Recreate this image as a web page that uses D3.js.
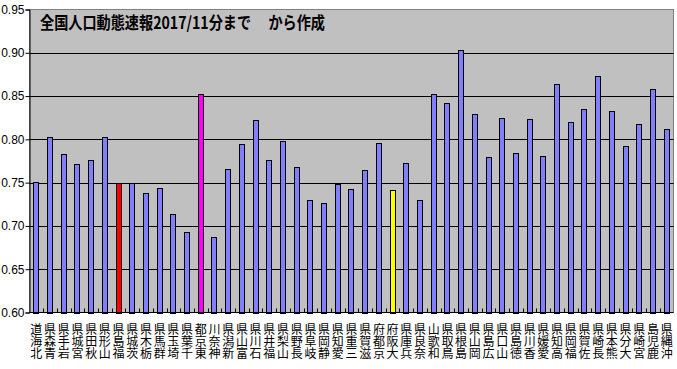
<!DOCTYPE html>
<html><head><meta charset="utf-8">
<script src="https://cdn.jsdelivr.net/npm/d3@7"></script>
<style>html,body{margin:0;padding:0;background:#fff;}svg{display:block;}</style>
</head><body>
<script>
const prefectures = ["北海道","青森県","岩手県","宮城県","秋田県","山形県","福島県","茨城県","栃木県","群馬県","埼玉県","千葉県","東京都","神奈川","新潟県","富山県","石川県","福井県","山梨県","長野県","岐阜県","静岡県","愛知県","三重県","滋賀県","京都府","大阪府","兵庫県","奈良県","和歌山","鳥取県","島根県","岡山県","広島県","山口県","徳島県","香川県","愛媛県","高知県","福岡県","佐賀県","長崎県","熊本県","大分県","宮崎県","鹿児島","沖縄県"];
const values = [0.751,0.803,0.783,0.771,0.776,0.803,0.750,0.750,0.738,0.744,0.714,0.693,0.852,0.687,0.766,0.795,0.822,0.776,0.798,0.768,0.730,0.726,0.748,0.743,0.765,0.796,0.741,0.773,0.730,0.852,0.842,0.903,0.829,0.780,0.825,0.784,0.823,0.781,0.864,0.820,0.835,0.873,0.833,0.792,0.818,0.858,0.812];
const highlight = {"福島県":"#FF0000","東京都":"#FF00FF","大阪府":"#FFFF00"};
const yTicks = [0.60,0.65,0.70,0.75,0.80,0.85,0.90,0.95];
const title = "全国人口動態速報2017/11分まで　 から作成";

(function () {
const W = 677, H = 369;
const pL = 29.5, pR = 673.5, pT = 9.5, pB = 312.5;
const svg = d3.select("body").append("svg").attr("width", W).attr("height", H);

const x = d3.scaleBand().domain(prefectures).range([pL, pR]).paddingInner(0.56).paddingOuter(0.28);
const y = d3.scaleLinear().domain([0.60, 0.95]).range([pB, pT]);

// plot area
svg.append("rect").attr("x", pL).attr("y", pT).attr("width", pR - pL).attr("height", pB - pT)
  .attr("fill", "#C0C0C0").attr("stroke", "#808080").attr("stroke-width", 1);

// gridlines
svg.append("g").selectAll("line").data(yTicks.slice(1, -1)).join("line")
  .attr("x1", pL).attr("x2", pR)
  .attr("y1", d => Math.round(y(d)) + 0.5).attr("y2", d => Math.round(y(d)) + 0.5)
  .attr("stroke", "#000").attr("stroke-width", 1);

// bars
svg.append("g").selectAll("rect").data(prefectures).join("rect")
  .attr("x", d => Math.round(x(d)) + 0.5)
  .attr("y", (d, i) => Math.round(y(values[i])) + 0.5)
  .attr("width", Math.round(x.bandwidth()) - 1)
  .attr("height", (d, i) => Math.round(y(0.60)) - Math.round(y(values[i])))
  .attr("fill", d => highlight[d] || "#8080FF")
  .attr("stroke", "#000").attr("stroke-width", 1);

// y axis
const yAxis = d3.axisLeft(y).tickValues(yTicks).tickFormat(d3.format(".2f")).tickSize(4).tickPadding(1);
const gy = svg.append("g").attr("transform", `translate(${pL},0)`).call(yAxis);
gy.selectAll("text").attr("font-family", "'Liberation Sans', Arial, sans-serif").attr("font-size", 12).attr("fill", "#000");
gy.select(".domain").attr("stroke", "#000");
gy.selectAll(".tick line").attr("stroke", "#000");

// x axis line and inner ticks at category boundaries
svg.append("line").attr("x1", pL).attr("x2", pR).attr("y1", pB).attr("y2", pB).attr("stroke", "#000");
const step = x.step();
svg.append("g").selectAll("line").data(d3.range(1, prefectures.length)).join("line")
  .attr("x1", i => Math.round(pL + i * step) + 0.5).attr("x2", i => Math.round(pL + i * step) + 0.5)
  .attr("y1", pB).attr("y2", pB - 4).attr("stroke", "#000");

// category labels: vertical, upright characters, first character at the bottom
const lab = svg.append("g").attr("font-family", "'Noto Sans CJK JP', sans-serif").attr("font-size", 12).attr("fill", "#000");
lab.selectAll("text").data(prefectures).join("text")
  .attr("x", d => x(d) + x.bandwidth() / 2)
  .attr("y", 323)
  .style("writing-mode", "vertical-rl")
  .style("text-orientation", "upright")
  .style("letter-spacing", "0.4px")
  .attr("text-anchor", "start")
  .text(d => Array.from(d).reverse().join(""));

// title
svg.append("text").attr("x", 40).attr("y", 29)
  .attr("font-family", "'Noto Sans CJK JP', sans-serif").attr("font-weight", "bold").attr("font-size", 17)
  .attr("textLength", 285).attr("lengthAdjust", "spacingAndGlyphs").attr("fill", "#000").text(title);
})();
</script>
</body></html>
